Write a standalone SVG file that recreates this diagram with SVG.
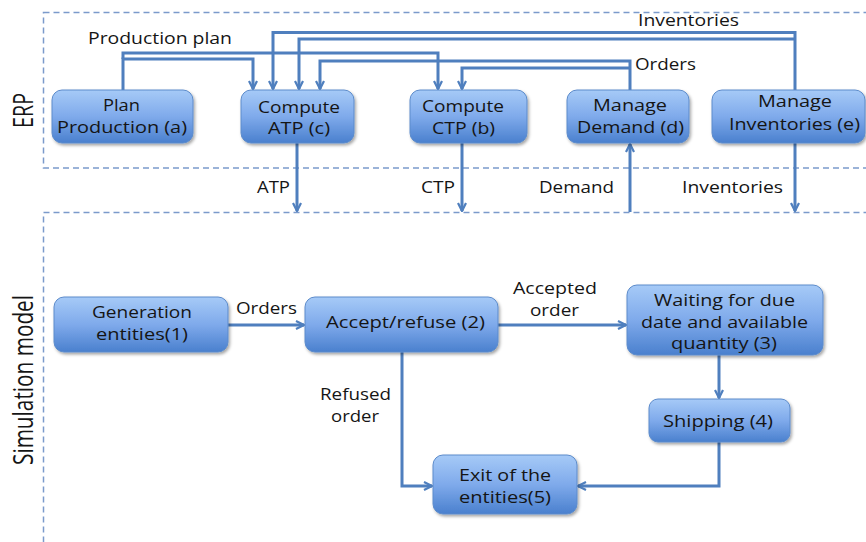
<svg xmlns="http://www.w3.org/2000/svg" width="866" height="542" viewBox="0 0 866 542">
<defs>
<linearGradient id="g" x1="0" y1="0" x2="0" y2="1">
<stop offset="0" stop-color="#A6CAF7"/>
<stop offset="0.5" stop-color="#7FAAEB"/>
<stop offset="1" stop-color="#4A80CE"/>
</linearGradient>
<filter id="sh" x="-10%" y="-10%" width="130%" height="140%">
<feDropShadow dx="1.5" dy="2" stdDeviation="1.5" flood-color="#000" flood-opacity="0.35"/>
</filter>
<marker id="ar" viewBox="0 0 10 10" refX="9" refY="5" markerWidth="10" markerHeight="10" markerUnits="userSpaceOnUse" orient="auto">
<path d="M1,1 L9,5 L1,9" fill="none" stroke="#4F7FBE" stroke-width="2.2"/>
</marker>
<style>
.box{fill:url(#g);stroke:#5C8BCB;stroke-width:1;filter:url(#sh)}
.t{font-family:"Open Sans","Liberation Sans",sans-serif;font-size:16px;fill:#151515;lengthAdjust:spacingAndGlyphs}
.c{fill:none;stroke:#4F7FBE;stroke-width:3}
.ca{fill:none;stroke:#4F7FBE;stroke-width:3;marker-end:url(#ar)}
.d{fill:none;stroke:#7B9ACB;stroke-width:1.5;stroke-dasharray:6,4}
</style>
</defs>
<rect width="866" height="542" fill="#fff"/>

<g id="frames">
<rect class="d" x="43.5" y="12.5" width="840" height="155.5"/>
<rect class="d" x="43.5" y="212.5" width="840" height="345"/>
<text class="t" transform="translate(33,128) rotate(-90)" font-size="27" style="font-size:27px" textLength="35" lengthAdjust="spacingAndGlyphs">ERP</text>
<text class="t" transform="translate(33,465) rotate(-90)" style="font-size:27px" textLength="170" lengthAdjust="spacingAndGlyphs">Simulation model</text>
</g>

<g id="connectors">
<path class="ca" d="M123,90 V59 H253 V89"/>
<path class="ca" d="M123,59 V53 H438 V89"/>
<path class="ca" d="M795,90 V32.5 H273 V89"/>
<path class="ca" d="M795,39 H299 V89"/>
<path class="ca" d="M630,90 V61 H320 V89"/>
<path class="ca" d="M630,68 H462 V89"/>
<path class="ca" d="M297,143 V211"/>
<path class="ca" d="M462,143 V211"/>
<path class="ca" d="M630,212 V144"/>
<path class="ca" d="M795,143 V211"/>
<path class="ca" d="M228,325 H304"/>
<path class="ca" d="M498,325 H626"/>
<path class="ca" d="M402,352 V486 H432"/>
<path class="ca" d="M719,355 V398"/>
<path class="ca" d="M719,442 V486 H578"/>
<text class="t" x="88" y="44" textLength="144" lengthAdjust="spacingAndGlyphs">Production plan</text>
<text class="t" x="638" y="26" textLength="101" lengthAdjust="spacingAndGlyphs">Inventories</text>
<text class="t" x="635" y="70" textLength="61" lengthAdjust="spacingAndGlyphs">Orders</text>
<text class="t" x="257" y="193" textLength="33" lengthAdjust="spacingAndGlyphs">ATP</text>
<text class="t" x="421" y="193" textLength="34" lengthAdjust="spacingAndGlyphs">CTP</text>
<text class="t" x="539" y="193" textLength="75" lengthAdjust="spacingAndGlyphs">Demand</text>
<text class="t" x="682" y="193" textLength="101" lengthAdjust="spacingAndGlyphs">Inventories</text>
<text class="t" x="236" y="314" textLength="61" lengthAdjust="spacingAndGlyphs">Orders</text>
<text class="t" x="513" y="294" textLength="84" lengthAdjust="spacingAndGlyphs">Accepted</text>
<text class="t" x="530" y="316" textLength="49" lengthAdjust="spacingAndGlyphs">order</text>
<text class="t" x="320" y="400" textLength="71" lengthAdjust="spacingAndGlyphs">Refused</text>
<text class="t" x="331" y="422" textLength="48" lengthAdjust="spacingAndGlyphs">order</text>
</g>

<g id="plan-production">
<rect class="box" x="52" y="90" width="141" height="53" rx="10"/>
<text class="t" x="103" y="111" textLength="37" lengthAdjust="spacingAndGlyphs">Plan</text>
<text class="t" x="57" y="133" textLength="130" lengthAdjust="spacingAndGlyphs">Production (a)</text>
</g>
<g id="compute-atp">
<rect class="box" x="241" y="90" width="113" height="53" rx="10"/>
<text class="t" x="258" y="113" textLength="82" lengthAdjust="spacingAndGlyphs">Compute</text>
<text class="t" x="268" y="134" textLength="62" lengthAdjust="spacingAndGlyphs">ATP (c)</text>
</g>
<g id="compute-ctp">
<rect class="box" x="410" y="90" width="117" height="53" rx="10"/>
<text class="t" x="422" y="112" textLength="82" lengthAdjust="spacingAndGlyphs">Compute</text>
<text class="t" x="432" y="134" textLength="63" lengthAdjust="spacingAndGlyphs">CTP (b)</text>
</g>
<g id="manage-demand">
<rect class="box" x="567" y="90" width="122" height="53" rx="10"/>
<text class="t" x="593" y="111" textLength="74" lengthAdjust="spacingAndGlyphs">Manage</text>
<text class="t" x="577" y="133" textLength="107" lengthAdjust="spacingAndGlyphs">Demand (d)</text>
</g>
<g id="manage-inventories">
<rect class="box" x="712" y="90" width="153" height="53" rx="10"/>
<text class="t" x="758" y="107" textLength="74" lengthAdjust="spacingAndGlyphs">Manage</text>
<text class="t" x="729" y="130" textLength="131" lengthAdjust="spacingAndGlyphs">Inventories (e)</text>
</g>

<g id="generation-entities">
<rect class="box" x="54" y="297" width="174" height="55" rx="10"/>
<text class="t" x="92" y="318" textLength="100" lengthAdjust="spacingAndGlyphs">Generation</text>
<text class="t" x="96" y="340" textLength="92" lengthAdjust="spacingAndGlyphs">entities(1)</text>
</g>
<g id="accept-refuse">
<rect class="box" x="305" y="297" width="193" height="55" rx="10"/>
<text class="t" x="326" y="328" textLength="159" lengthAdjust="spacingAndGlyphs">Accept/refuse (2)</text>
</g>
<g id="waiting">
<rect class="box" x="627" y="285" width="196" height="70" rx="10"/>
<text class="t" x="654" y="306" textLength="141" lengthAdjust="spacingAndGlyphs">Waiting for due</text>
<text class="t" x="641" y="328" textLength="167" lengthAdjust="spacingAndGlyphs">date and available</text>
<text class="t" x="671" y="349" textLength="106" lengthAdjust="spacingAndGlyphs">quantity (3)</text>
</g>
<g id="shipping">
<rect class="box" x="649" y="399" width="141" height="43" rx="9"/>
<text class="t" x="663" y="427" textLength="110" lengthAdjust="spacingAndGlyphs">Shipping (4)</text>
</g>
<g id="exit">
<rect class="box" x="433" y="455" width="144" height="59" rx="10"/>
<text class="t" x="459" y="481" textLength="92" lengthAdjust="spacingAndGlyphs">Exit of the</text>
<text class="t" x="459" y="503" textLength="92" lengthAdjust="spacingAndGlyphs">entities(5)</text>
</g>
</svg>
